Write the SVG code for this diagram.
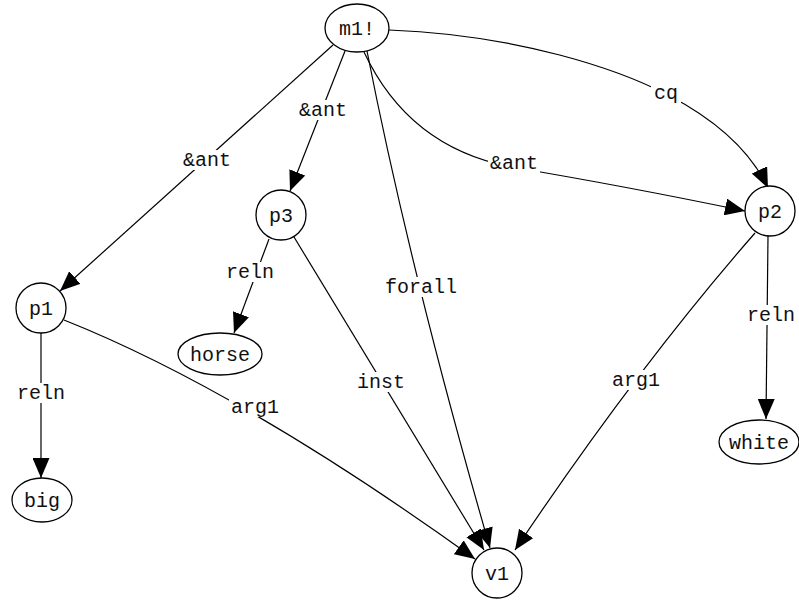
<svg xmlns="http://www.w3.org/2000/svg" width="799" height="600" viewBox="0 0 799 600">
  <style>
    .edge { fill: none; stroke: #000; stroke-width: 1.2; }
    .node { fill: #fff; stroke: #000; stroke-width: 1.3; }
    .lbl { font-family: "Liberation Mono", "Courier New", monospace; font-size: 20px; text-anchor: middle; fill: #111; }
    .bg { fill: #fff; stroke: none; }
  </style>
  <defs>
    <marker id="arrow" markerUnits="userSpaceOnUse" markerWidth="21" markerHeight="17" refX="20" refY="8.5" orient="auto">
      <path d="M0,0 L20,8.5 L0,17 z" fill="#000"/>
    </marker>
  </defs>
  <rect width="799" height="600" fill="#fff"/>

  <g id="connectors">
    <!-- m1! -> p1 -->
    <path class="edge" d="M333,45 L60,291" marker-end="url(#arrow)"/>
    <!-- m1! -> p3 -->
    <path class="edge" d="M345,51 L290,191" marker-end="url(#arrow)"/>
    <!-- m1! -> v1 (forall) -->
    <path class="edge" d="M367,51 Q411,275 490,548" marker-end="url(#arrow)"/>
    <!-- m1! -> p2 (&ant) -->
    <path class="edge" d="M364,52 Q410,150 517,168 T745,211" marker-end="url(#arrow)"/>
    <!-- m1! -> p2 (cq) -->
    <path class="edge" d="M389,30 C520,35 620,70 668,95 S750,150 768,188" marker-end="url(#arrow)"/>
    <!-- p3 -> horse -->
    <path class="edge" d="M269,239 L234,333" marker-end="url(#arrow)"/>
    <!-- p3 -> v1 (inst) -->
    <path class="edge" d="M294,237 L484,550" marker-end="url(#arrow)"/>
    <!-- p1 -> big -->
    <path class="edge" d="M41,333 L41,478" marker-end="url(#arrow)"/>
    <!-- p1 -> v1 (arg1) -->
    <path class="edge" d="M64,320 Q240,390 475,559" marker-end="url(#arrow)"/>
    <!-- p2 -> v1 (arg1) -->
    <path class="edge" d="M755,233 Q637,368 515,550" marker-end="url(#arrow)"/>
    <!-- p2 -> white -->
    <path class="edge" d="M768,236 L766,419" marker-end="url(#arrow)"/>

    <!-- edge labels -->
    <rect class="bg" x="181" y="150" width="52" height="20"/>
    <text class="lbl" x="207" y="166">&amp;ant</text>
    <rect class="bg" x="297" y="100" width="52" height="20"/>
    <text class="lbl" x="323" y="116">&amp;ant</text>
    <rect class="bg" x="383" y="277" width="76" height="20"/>
    <text class="lbl" x="421" y="293">forall</text>
    <rect class="bg" x="488" y="153" width="52" height="20"/>
    <text class="lbl" x="514" y="169">&amp;ant</text>
    <rect class="bg" x="651" y="83" width="30" height="20"/>
    <text class="lbl" x="666" y="99">cq</text>
    <rect class="bg" x="224" y="262" width="52" height="20"/>
    <text class="lbl" x="250" y="278">reln</text>
    <rect class="bg" x="355" y="372" width="52" height="20"/>
    <text class="lbl" x="381" y="388">inst</text>
    <rect class="bg" x="15" y="383" width="52" height="20"/>
    <text class="lbl" x="41" y="399">reln</text>
    <rect class="bg" x="229" y="397" width="52" height="20"/>
    <text class="lbl" x="255" y="413">arg1</text>
    <rect class="bg" x="610" y="370" width="52" height="20"/>
    <text class="lbl" x="636" y="386">arg1</text>
    <rect class="bg" x="745" y="305" width="52" height="20"/>
    <text class="lbl" x="771" y="321">reln</text>
  </g>

  <g id="node-m1">
    <ellipse class="node" cx="357" cy="28" rx="32" ry="24"/>
    <text class="lbl" x="357" y="35">m1!</text>
  </g>
  <g id="node-p3">
    <circle class="node" cx="281" cy="215" r="25"/>
    <text class="lbl" x="281" y="222">p3</text>
  </g>
  <g id="node-p1">
    <circle class="node" cx="41" cy="308" r="25"/>
    <text class="lbl" x="41" y="315">p1</text>
  </g>
  <g id="node-p2">
    <circle class="node" cx="770" cy="211" r="25"/>
    <text class="lbl" x="770" y="218">p2</text>
  </g>
  <g id="node-horse">
    <ellipse class="node" cx="220" cy="354" rx="42" ry="21"/>
    <text class="lbl" x="220" y="361">horse</text>
  </g>
  <g id="node-white">
    <ellipse class="node" cx="759" cy="442" rx="40" ry="22"/>
    <text class="lbl" x="759" y="449">white</text>
  </g>
  <g id="node-big">
    <ellipse class="node" cx="42" cy="500" rx="30" ry="22"/>
    <text class="lbl" x="42" y="507">big</text>
  </g>
  <g id="node-v1">
    <circle class="node" cx="497" cy="573" r="25"/>
    <text class="lbl" x="497" y="580">v1</text>
  </g>
</svg>
